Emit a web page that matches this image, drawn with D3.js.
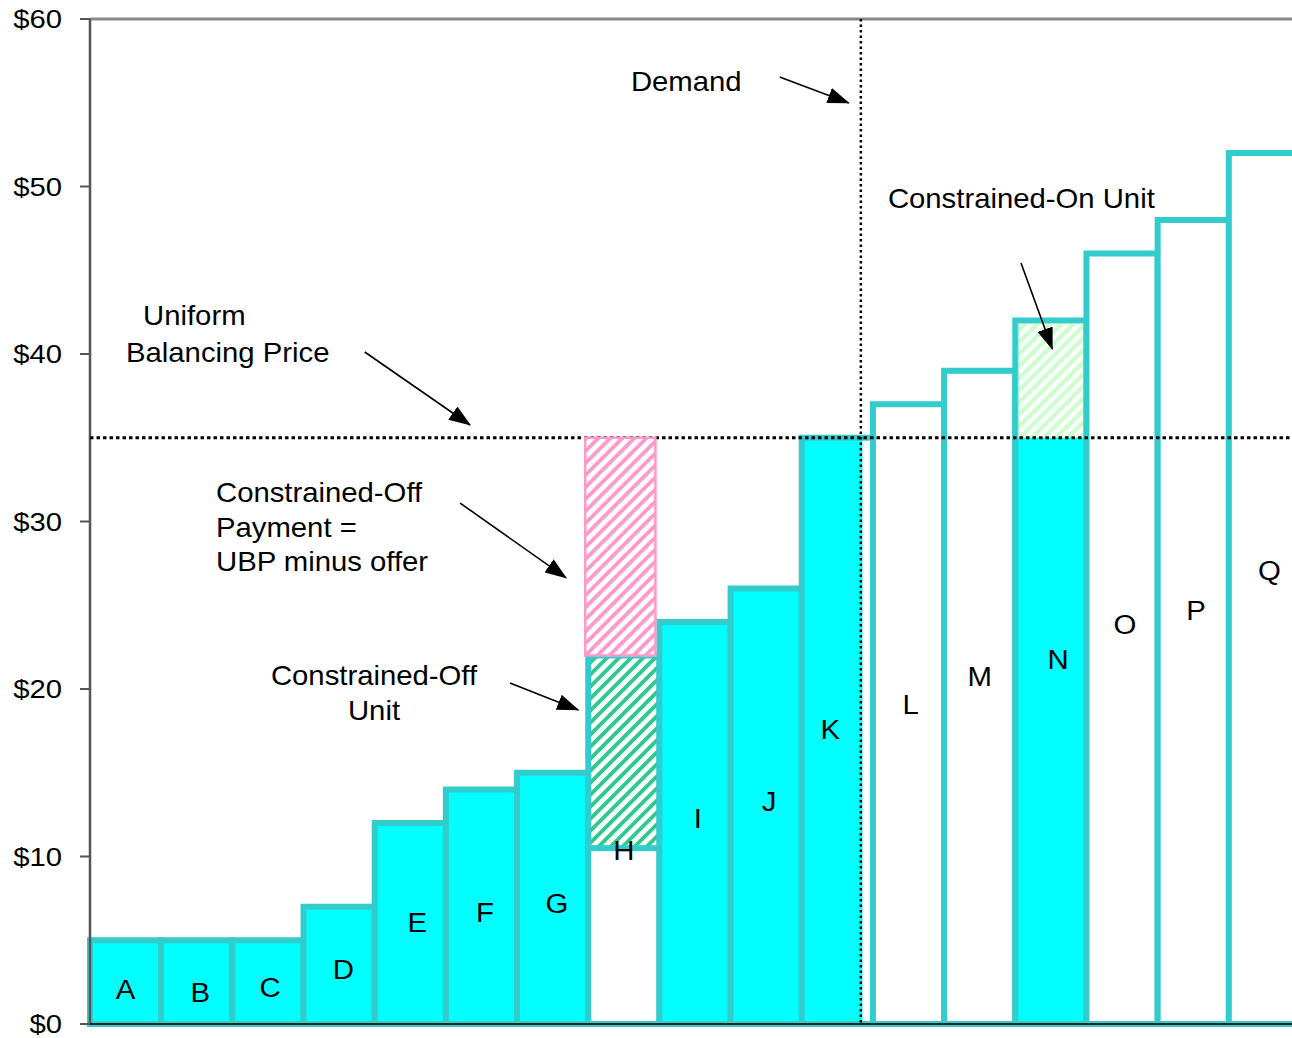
<!DOCTYPE html>
<html><head><meta charset="utf-8">
<script src="https://cdn.jsdelivr.net/npm/d3@7"></script>
<style>html,body{margin:0;padding:0;background:#fff;}svg{display:block;font-family:"Liberation Sans",Arial,sans-serif;}</style>
</head><body>
<script>
// ---- data ----
const units  = ["A","B","C","D","E","F","G","H","I","J","K","L","M","N","O","P","Q"];
const offers = [5,5,5,7,12,14,15,22,24,26,35,37,39,42,46,48,52];
const priceTicks = [0,10,20,30,40,50,60];
const tickLabels = ["$0","$10","$20","$30","$40","$50","$60"];
const ubp = 35;                 // uniform balancing price
const demandQty = 10.83;        // demand (in unit blocks)
const constrainedOff = "H";
const constrainedOffLevel = 10.5;
const constrainedOn = "N";
// label placement (price level at which each letter sits, and small x nudge in units)
const labelLevel = [2.1,1.9,2.2,3.3,6.1,6.7,7.2,10.4,12.3,13.3,17.6,19.1,20.8,21.8,23.9,24.7,27.1];
const labelNudge = [0,0.05,0.03,0.06,0.1,0.05,0.06,0,0.04,0.04,-0.1,0.03,0,0.1,0.04,0.04,0.07];

const W = 1292, H = 1038;
const svg = d3.select("body").append("svg").attr("width", W).attr("height", H);
const xs = d3.scaleLinear().domain([0, 17]).range([90, 1300]);
const ys = d3.scaleLinear().domain([0, 60]).range([1024, 19]);

const TEAL = "#33CCCC", CYAN = "#00FFFF";
const defs = svg.append("defs");
function hatch(id, color, period, frac) {
  const p = defs.append("pattern").attr("id", id).attr("patternUnits", "userSpaceOnUse")
    .attr("width", period).attr("height", period).attr("patternTransform", "rotate(45)");
  p.append("rect").attr("width", period).attr("height", period).attr("fill", "#fff");
  p.append("rect").attr("width", period * frac).attr("height", period).attr("fill", color);
}
hatch("greenHatch", "#2DC98E", 8.5, 0.45);
hatch("pinkHatch", "#FF99CC", 8.5, 0.45);
hatch("lightHatch", "#CCFFCC", 8.5, 0.5);
defs.append("marker").attr("id", "arrow").attr("markerUnits", "userSpaceOnUse")
  .attr("markerWidth", 22).attr("markerHeight", 16).attr("refX", 21).attr("refY", 8)
  .attr("orient", "auto")
  .append("path").attr("d", "M0,0 L22,8 L0,16 Z").attr("fill", "#000");

// top frame
svg.append("line").attr("x1", xs(0)).attr("x2", W).attr("y1", ys(60)).attr("y2", ys(60))
  .attr("stroke", "#8a8a8a").attr("stroke-width", 3);

// bars
const g = svg.append("g");
units.forEach((u, i) => {
  const x0 = xs(i), x1 = xs(i + 1);
  const o = offers[i];
  let fill = "#fff";
  if (u === constrainedOff) fill = "url(#greenHatch)";
  else if (o <= ubp || u === constrainedOn) fill = CYAN;
  g.append("rect").attr("x", x0).attr("y", ys(o)).attr("width", x1 - x0).attr("height", ys(0) - ys(o))
    .attr("fill", fill).attr("stroke", TEAL).attr("stroke-width", 6);
  if (u === constrainedOff) {
    g.append("rect").attr("x", x0).attr("y", ys(constrainedOffLevel)).attr("width", x1 - x0)
      .attr("height", ys(0) - ys(constrainedOffLevel))
      .attr("fill", "#fff").attr("stroke", TEAL).attr("stroke-width", 6);
  }
  if (u === constrainedOn) {
    g.append("rect").attr("x", x0 + 3).attr("y", ys(o) + 3).attr("width", x1 - x0 - 6)
      .attr("height", ys(ubp) - ys(o) - 3)
      .attr("fill", "url(#lightHatch)").attr("stroke", "#9EEBD8").attr("stroke-width", 1);
  }
});
// area of the last in-merit block beyond demand is not dispatched
const kIdx = Math.floor(demandQty);
g.append("rect").attr("x", xs(demandQty) + 1.5).attr("y", ys(offers[kIdx]) + 3)
  .attr("width", xs(kIdx + 1) - 3 - xs(demandQty) - 1.5).attr("height", ys(0) - ys(offers[kIdx]) - 6)
  .attr("fill", "#fff");

// axes
svg.append("line").attr("x1", xs(0)).attr("x2", xs(0)).attr("y1", ys(60)).attr("y2", ys(0))
  .attr("stroke", "#555").attr("stroke-width", 2.5);
svg.append("line").attr("x1", xs(0)).attr("x2", W).attr("y1", ys(0)).attr("y2", ys(0))
  .attr("stroke", "#222").attr("stroke-width", 2);
priceTicks.forEach((t, i) => {
  svg.append("line").attr("x1", xs(0) - 10).attr("x2", xs(0)).attr("y1", ys(t)).attr("y2", ys(t))
    .attr("stroke", "#555").attr("stroke-width", 2);
  svg.append("text").attr("transform", `translate(62,${ys(t) + 9}) scale(1.17,1)`)
    .attr("text-anchor", "end").attr("font-size", 25).attr("fill", "#000").text(tickLabels[i]);
});

// UBP and demand dotted lines
svg.append("line").attr("x1", xs(0)).attr("x2", W).attr("y1", ys(ubp)).attr("y2", ys(ubp))
  .attr("stroke", "#000").attr("stroke-width", 3).attr("stroke-dasharray", "3.5,3");
svg.append("line").attr("x1", xs(demandQty)).attr("x2", xs(demandQty)).attr("y1", ys(60)).attr("y2", ys(0))
  .attr("stroke", "#000").attr("stroke-width", 2.5).attr("stroke-dasharray", "2.5,3");

// constrained-off payment box (UBP minus offer)
const hIdx = units.indexOf(constrainedOff);
svg.append("rect").attr("x", xs(hIdx) - 3).attr("y", ys(ubp))
  .attr("width", xs(hIdx + 1) - xs(hIdx) - 1).attr("height", ys(offers[hIdx]) - ys(ubp))
  .attr("fill", "url(#pinkHatch)").attr("stroke", "#FF99CC").attr("stroke-width", 2.5);

// unit letters
units.forEach((u, i) => {
  svg.append("text")
    .attr("transform", `translate(${xs(i + 0.5 + labelNudge[i])},${ys(labelLevel[i]) + 10}) scale(1.05,1)`)
    .attr("text-anchor", "middle").attr("font-size", 28).attr("fill", "#000").text(u);
});

// annotations (data coordinates)
function txt(q, p, s, anchor) {
  svg.append("text").attr("transform", `translate(${xs(q)},${ys(p)}) scale(1.085,1)`)
    .attr("text-anchor", anchor || "start").attr("font-size", 27).attr("fill", "#000").text(s);
}
function arrow(q0, p0, q1, p1) {
  svg.append("line").attr("x1", xs(q0)).attr("y1", ys(p0)).attr("x2", xs(q1)).attr("y2", ys(p1))
    .attr("stroke", "#000").attr("stroke-width", 1.6).attr("marker-end", "url(#arrow)");
}
txt(7.60, 55.70, "Demand");
arrow(9.69, 56.54, 10.66, 54.99);
txt(11.21, 48.72, "Constrained-On Unit");
arrow(13.08, 45.43, 13.52, 40.30);
txt(0.745, 41.73, "Uniform");
txt(0.506, 39.52, "Balancing Price");
arrow(3.86, 40.12, 5.34, 35.76);
txt(1.77, 31.16, "Constrained-Off");
txt(1.77, 29.10, "Payment =");
txt(1.77, 27.04, "UBP minus offer");
arrow(5.20, 31.10, 6.69, 26.63);
txt(3.99, 20.24, "Constrained-Off", "middle");
txt(3.99, 18.15, "Unit", "middle");
arrow(5.90, 20.36, 6.86, 18.75);
</script>
</body></html>
